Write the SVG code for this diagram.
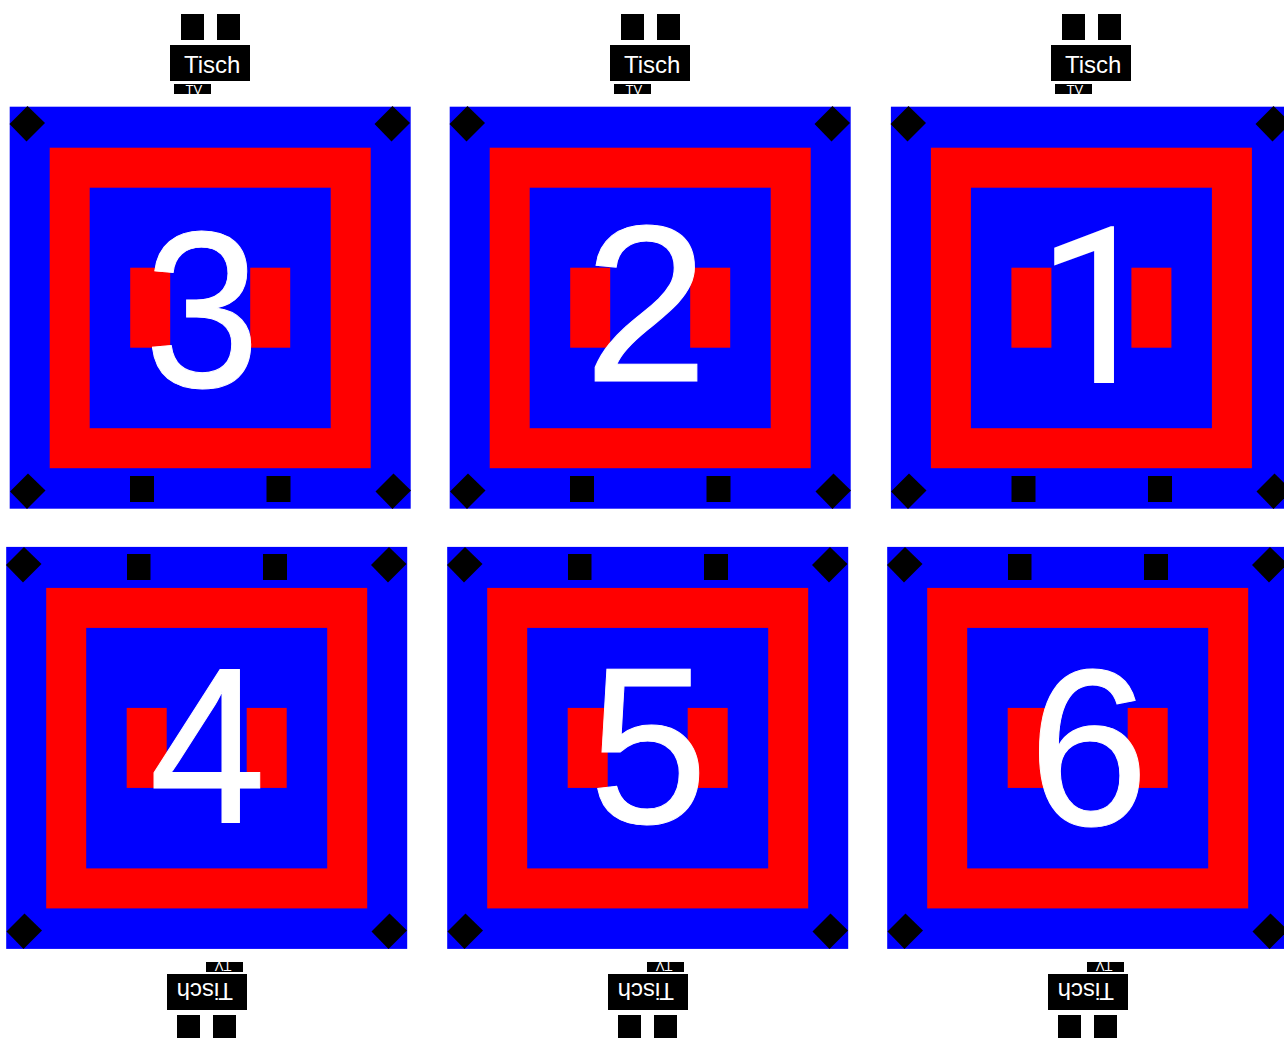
<svg xmlns="http://www.w3.org/2000/svg" width="1284" height="1038" viewBox="0 0 1284 1038">
<style>
.b{fill:#00f}.r{fill:#f00}.k{fill:#000}
.d{fill:#fff;stroke:#fff;stroke-width:1;font-family:"Liberation Sans",Arial,sans-serif;font-size:223px}
.o{fill:#fff;font-family:Roboto,sans-serif;font-size:219px}
.t{fill:#fff;font-family:"Liberation Sans",Arial,sans-serif;font-size:24px}
.v{fill:#fff;font-family:"Liberation Sans",Arial,sans-serif;font-size:13px}
</style>
<defs>
<g id="room">
<rect class="b" width="401" height="402"/>
<rect class="r" x="40" y="41" width="321" height="320.500"/>
<rect class="b" x="80" y="81" width="241" height="240.500"/>
<rect class="r" x="120.500" y="161" width="40" height="80"/>
<rect class="r" x="240.500" y="161" width="40" height="80"/>
</g>
<polygon id="dia" class="k" points="0,-18 17.500,-1 -1,17.500 -18,0"/>
<g id="top">
<rect class="k" x="11" y="-31" width="23" height="26"/>
<rect class="k" x="47" y="-31" width="23" height="26"/>
<rect class="k" width="80" height="36"/>
<text class="t" x="14" y="27.500">Tisch</text>
</g>
<g id="tv">
<rect class="k" width="37" height="10"/>
<text class="v" x="11.500" y="10">TV</text>
</g>
</defs>
<g id="room3"><use href="#room" x="9.700" y="106.700"/>
<use href="#dia" x="27.500" y="124"/><use href="#dia" x="392.500" y="124"/><use href="#dia" x="28" y="491.500"/><use href="#dia" x="393.500" y="491.500"/>
<rect class="k" x="130" y="476" width="24" height="26"/><rect class="k" x="266.500" y="476" width="24" height="26"/>
<text class="d" transform="translate(144.400,387) scale(.93,1)">3</text></g>
<g id="room2"><use href="#room" x="449.700" y="106.700"/>
<use href="#dia" x="467.500" y="124"/><use href="#dia" x="832.500" y="124"/><use href="#dia" x="468" y="491.500"/><use href="#dia" x="833.500" y="491.500"/>
<rect class="k" x="570" y="476" width="24" height="26"/><rect class="k" x="706.500" y="476" width="24" height="26"/>
<text class="d" x="584" y="381">2</text></g>
<g id="room1"><use href="#room" x="890.900" y="106.700"/>
<use href="#dia" x="908.500" y="124"/><use href="#dia" x="1273.500" y="124"/><use href="#dia" x="909" y="491.500"/><use href="#dia" x="1274.500" y="491.500"/>
<rect class="k" x="1011.500" y="476" width="24" height="26"/><rect class="k" x="1148" y="476" width="24" height="26"/>
<text class="o" x="1036" y="383">1</text></g>
<g id="room4"><use href="#room" x="6.200" y="546.900"/>
<use href="#dia" x="24" y="565"/><use href="#dia" x="389" y="565"/><use href="#dia" x="24.500" y="931.500"/><use href="#dia" x="389.500" y="931.500"/>
<rect class="k" x="127" y="554" width="23.500" height="26"/><rect class="k" x="263" y="554" width="24" height="26"/>
<text class="d" transform="translate(149.200,823) scale(.94,1)">4</text></g>
<g id="room5"><use href="#room" x="447.200" y="546.900"/>
<use href="#dia" x="465" y="565"/><use href="#dia" x="830" y="565"/><use href="#dia" x="465.500" y="931.500"/><use href="#dia" x="830.500" y="931.500"/>
<rect class="k" x="568" y="554" width="23.500" height="26"/><rect class="k" x="704" y="554" width="24" height="26"/>
<text class="d" transform="translate(589.300,823) scale(.955,1)">5</text></g>
<g id="room6"><use href="#room" x="887.200" y="546.900"/>
<use href="#dia" x="905" y="565"/><use href="#dia" x="1270" y="565"/><use href="#dia" x="905.500" y="931.500"/><use href="#dia" x="1270.500" y="931.500"/>
<rect class="k" x="1008" y="554" width="23.500" height="26"/><rect class="k" x="1144" y="554" width="24" height="26"/>
<text class="d" transform="translate(1028.400,825) scale(.97,1)">6</text></g>
<g id="table3"><use href="#top" x="170" y="45"/><use href="#tv" x="174" y="84"/></g>
<g id="table2"><use href="#top" x="610" y="45"/><use href="#tv" x="614" y="84"/></g>
<g id="table1"><use href="#top" x="1051" y="45"/><use href="#tv" x="1055" y="84"/></g>
<g id="table4"><use href="#top" transform="translate(247,1010) rotate(180)"/><use href="#tv" transform="translate(243,972) rotate(180)"/></g>
<g id="table5"><use href="#top" transform="translate(688,1010) rotate(180)"/><use href="#tv" transform="translate(684,972) rotate(180)"/></g>
<g id="table6"><use href="#top" transform="translate(1128,1010) rotate(180)"/><use href="#tv" transform="translate(1124,972) rotate(180)"/></g>
</svg>
